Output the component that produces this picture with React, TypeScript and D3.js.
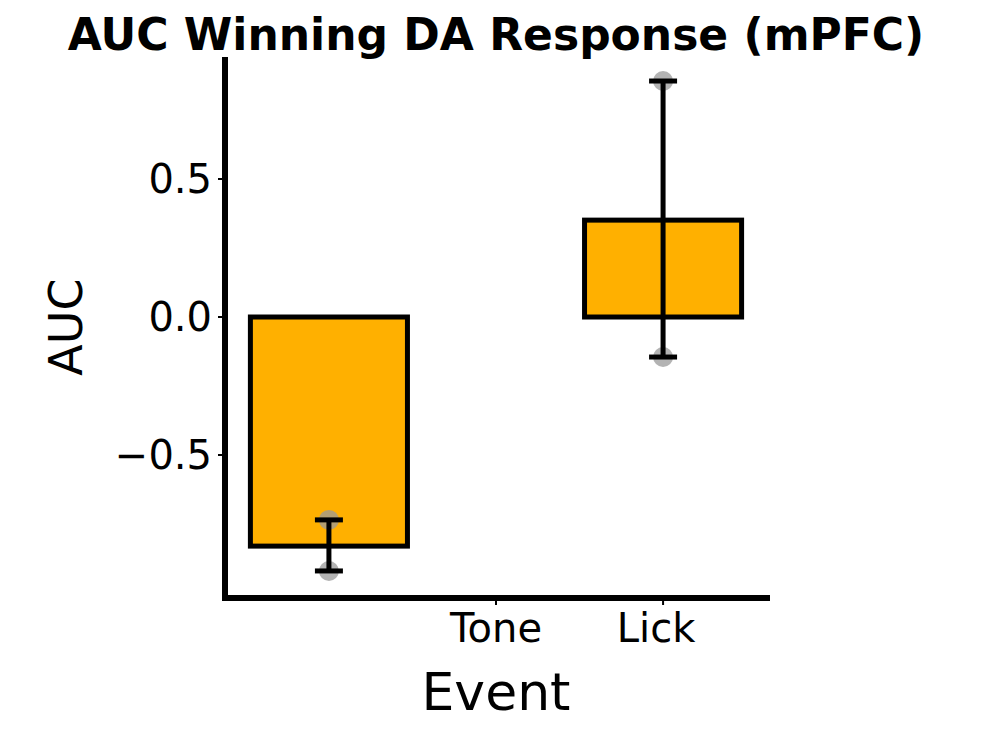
import { useRef, useEffect } from "react"
import * as d3 from "d3"

const barPositions = [0, 1]
const barValues = [-0.83, 0.351]
const errLow = [-0.92, -0.145]
const errHigh = [-0.735, 0.855]
const tickPositions = [0.5, 1]
const tickLabels = ["Tone", "Lick"]
const yTicks = [-0.5, 0, 0.5]

export default function App() {
  const svgRef = useRef<SVGSVGElement>(null)

  useEffect(() => {
    const svg = d3.select(svgRef.current)
    svg.selectAll("*").remove()
    const font = "DejaVu Sans, sans-serif"

    const x = d3.scaleLinear().domain([-0.311, 1.32]).range([225, 770])
    const y = d3.scaleLinear().domain([-1.018, 0.942]).range([598, 57])
    const bw = x(0.47) - x(0)

    svg.append("text").attr("x", 496).attr("y", 50).attr("text-anchor", "middle")
      .attr("font-family", font).attr("font-weight", "bold").attr("font-size", 44)
      .text("AUC Winning DA Response (mPFC)")

    barPositions.forEach((p, i) => {
      const top = Math.min(y(0), y(barValues[i]))
      svg.append("rect").attr("x", x(p) - bw / 2).attr("y", top)
        .attr("width", bw).attr("height", Math.abs(y(barValues[i]) - y(0)))
        .attr("fill", "#ffb000").attr("stroke", "#000").attr("stroke-width", 5)
    })

    barPositions.forEach((p, i) => {
      ;[errLow[i], errHigh[i]].forEach(v => {
        svg.append("circle").attr("cx", x(p)).attr("cy", y(v)).attr("r", 10)
          .attr("fill", "#999").attr("opacity", 0.75)
      })
    })

    barPositions.forEach((p, i) => {
      const g = svg.append("g").attr("stroke", "#000").attr("stroke-width", 5)
      g.append("line").attr("x1", x(p)).attr("x2", x(p)).attr("y1", y(errLow[i])).attr("y2", y(errHigh[i]))
      ;[errLow[i], errHigh[i]].forEach(v => {
        g.append("line").attr("x1", x(p) - 14).attr("x2", x(p) + 14).attr("y1", y(v)).attr("y2", y(v))
      })
    })

    // spines
    svg.append("line").attr("x1", 225).attr("x2", 225).attr("y1", 57).attr("y2", 600)
      .attr("stroke", "#000").attr("stroke-width", 6)
    svg.append("line").attr("x1", 222).attr("x2", 770).attr("y1", 598).attr("y2", 598)
      .attr("stroke", "#000").attr("stroke-width", 6)

    yTicks.forEach(t => {
      svg.append("line").attr("x1", 218).attr("x2", 225).attr("y1", y(t)).attr("y2", y(t))
        .attr("stroke", "#000").attr("stroke-width", 2)
      svg.append("text").attr("x", 212).attr("y", y(t)).attr("dy", "0.35em")
        .attr("text-anchor", "end").attr("font-family", font).attr("font-size", 40)
        .text(t === 0 ? "0.0" : t < 0 ? "\u22120.5" : "0.5")
    })
    tickPositions.forEach((t, i) => {
      svg.append("line").attr("x1", x(t)).attr("x2", x(t)).attr("y1", 598).attr("y2", 605)
        .attr("stroke", "#000").attr("stroke-width", 2)
      svg.append("text").attr("x", x(t) - (i === 1 ? 7 : 0)).attr("y", 642).attr("text-anchor", "middle")
        .attr("font-family", font).attr("font-size", 40).text(tickLabels[i])
    })

    svg.append("text").attr("x", 496).attr("y", 710).attr("text-anchor", "middle")
      .attr("font-family", font).attr("font-size", 52).text("Event")
    svg.append("text").attr("transform", `translate(82,${y(0.0) + 10}) rotate(-90)`)
      .attr("text-anchor", "middle").attr("font-family", font).attr("font-size", 46).text("AUC")
  }, [])

  return (
    <svg ref={svgRef} width={993} height={730}
      style={{ position: "absolute", left: 0, top: 0, background: "#fff" }} />
  )
}
